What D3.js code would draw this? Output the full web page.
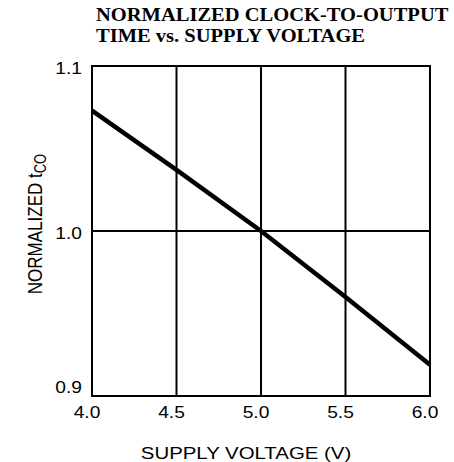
<!DOCTYPE html>
<html>
<head>
<meta charset="utf-8">
<script src="https://cdn.jsdelivr.net/npm/d3@7"></script>
<style>
body { margin: 0; background: #fff; }
svg { display: block; }
</style>
</head>
<body>
<div id="chart"></div>
<script>
var width = 454;
var height = 462;

// data
var voltage = [4.0, 4.5, 5.0, 5.5, 6.0];
var normTco = [1.073, 1.037, 1.0, 0.960, 0.919];
var xTicks = [4.0, 4.5, 5.0, 5.5, 6.0];
var yTicks = [0.9, 1.0, 1.1];
var titleLines = ["NORMALIZED CLOCK-TO-OUTPUT", "TIME vs. SUPPLY VOLTAGE"];

var margin = {top: 66, right: 24, bottom: 66, left: 92};
var stretch = 1.2; // the scan is a bit wider than tall
var sans = "Liberation Sans, Arial, sans-serif";

var svg = d3.select("#chart").append("svg")
    .attr("width", width)
    .attr("height", height);

var x = d3.scaleLinear().domain([4.0, 6.0]).range([margin.left, width - margin.right]);
var y = d3.scaleLinear().domain([0.9, 1.1]).range([height - margin.bottom, margin.top]);

//Title (squeezed a little so the whole first line fits)
svg.selectAll("text.title")
    .data(titleLines)
    .enter().append("text")
    .attr("class", "title")
    .attr("transform", function(d, i) { return "translate(96," + (21 + i * 21) + ") scale(1.14,1)"; })
    .attr("font-family", "Liberation Serif, Times New Roman, serif")
    .attr("font-weight", "bold")
    .attr("font-size", 18)
    .text(function(d) { return d; });

//Grid
svg.selectAll("line.vgrid")
    .data(xTicks.slice(1, -1))
    .enter().append("line")
    .attr("x1", function(d) { return x(d); })
    .attr("x2", function(d) { return x(d); })
    .attr("y1", y(1.1))
    .attr("y2", y(0.9))
    .attr("stroke", "#000")
    .attr("stroke-width", 2);

svg.append("line")
    .attr("x1", x(4.0)).attr("x2", x(6.0))
    .attr("y1", y(1.0)).attr("y2", y(1.0))
    .attr("stroke", "#000")
    .attr("stroke-width", 2);

//Frame
svg.append("rect")
    .attr("x", x(4.0))
    .attr("y", y(1.1))
    .attr("width", x(6.0) - x(4.0))
    .attr("height", y(0.9) - y(1.1))
    .attr("fill", "none")
    .attr("stroke", "#000")
    .attr("stroke-width", 2);

//Axes labels
var fmt = d3.format(".1f");
svg.selectAll("text.xtick")
    .data(xTicks)
    .enter().append("text")
    .attr("class", "xtick")
    .attr("transform", function(d) { return "translate(" + (x(d) - 5) + "," + (y(0.9) + 22) + ") scale(" + stretch + ",1)"; })
    .attr("text-anchor", "middle")
    .attr("font-family", sans)
    .attr("font-size", 16)
    .text(fmt);

svg.selectAll("text.ytick")
    .data(yTicks)
    .enter().append("text")
    .attr("class", "ytick")
    .attr("transform", function(d) {
        var dy = d == 0.9 ? -3 : 8;
        return "translate(" + (x(4.0) - 10) + "," + (y(d) + dy) + ") scale(" + stretch + ",1)";
    })
    .attr("text-anchor", "end")
    .attr("font-family", sans)
    .attr("font-size", 16)
    .text(fmt);

svg.append("text")
    .attr("transform", "translate(246,459) scale(" + stretch + ",1)")
    .attr("text-anchor", "middle")
    .attr("font-family", sans)
    .attr("font-size", 17)
    .text("SUPPLY VOLTAGE (V)");

var ylab = svg.append("text")
    .attr("transform", "translate(42,224) scale(1.2,1) rotate(-90)")
    .attr("text-anchor", "middle")
    .attr("font-family", sans)
    .attr("font-size", 17);
ylab.append("tspan").text("NORMALIZED t");
ylab.append("tspan").attr("font-size", 13).attr("dy", 3).text("CO");

//Curve
var line = d3.line()
    .x(function(d, i) { return x(voltage[i]); })
    .y(function(d) { return y(d); });

svg.append("path")
    .datum(normTco)
    .attr("d", line)
    .attr("fill", "none")
    .attr("stroke", "#000")
    .attr("stroke-width", 4.5);
</script>
</body>
</html>
